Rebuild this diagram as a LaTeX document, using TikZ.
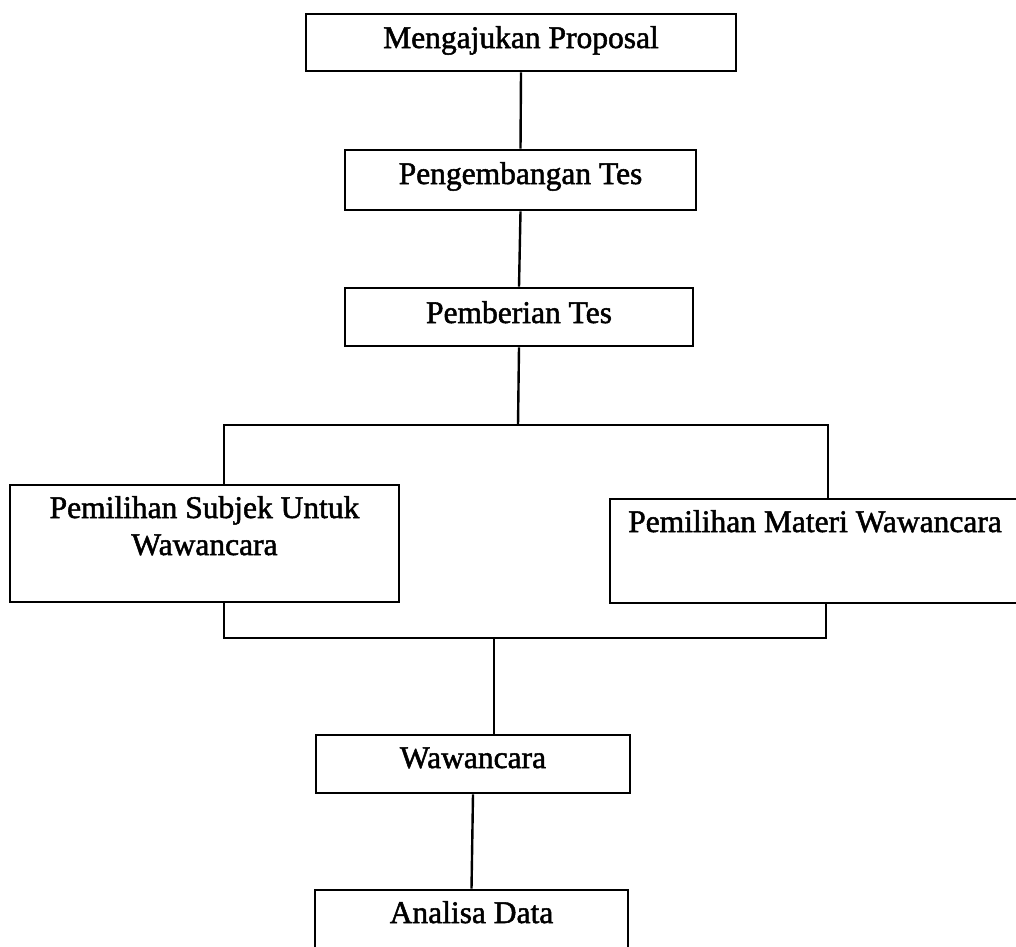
\documentclass[tikz,border=0pt]{standalone}
\usepackage{fontspec}
\setmainfont{Liberation Serif}[FakeBold=1.6]
\newcommand{\boxtxt}[2]{\smash{\raisebox{#1}{#2}}}
\begin{document}
\begin{tikzpicture}[x=1pt,y=-1pt,
  stepbox/.style={draw=black, line width=2.6pt, inner sep=0pt, font=\fontsize{31.5}{37}\selectfont},
  conn/.style={draw=black, line width=2.4pt}]
\useasboundingbox (0,0) rectangle (1016,946);
\fill[white] (0,0) rectangle (1016,946);

\node[stepbox, minimum width=430pt, minimum height=57pt] (b1) at (521,42.5) {\boxtxt{-5.5pt}{Mengajukan Proposal}};
\node[stepbox, minimum width=351pt, minimum height=60pt] (b2) at (520.5,180) {\boxtxt{-4pt}{Pengembangan Tes}};
\node[stepbox, minimum width=348pt, minimum height=58pt] (b3) at (519,317) {\boxtxt{-6pt}{Pemberian Tes}};
\node[stepbox, minimum width=389pt, minimum height=117pt] (bL) at (204.5,543.5) {\boxtxt{-11.5pt}{\begin{tabular}[b]{@{}c@{}}Pemilihan Subjek Untuk\\Wawancara\end{tabular}}};
\node[stepbox, minimum width=410pt, minimum height=104pt] (bR) at (815,551) {\boxtxt{19pt}{Pemilihan Materi Wawancara}};
\node[stepbox, minimum width=314pt, minimum height=58pt] (b4) at (473,764) {\boxtxt{-4pt}{Wawancara}};
\node[stepbox, minimum width=313pt, minimum height=58pt] (b5) at (471.5,919) {\boxtxt{-4pt}{Analisa Data}};

\coordinate (jt) at (518,425);
\coordinate (jl) at (224,425);
\coordinate (jr) at (828,425);
\coordinate (kl) at (224,638);
\coordinate (kr) at (826,638);
\coordinate (kb) at (494,638);

\draw[conn] (b1.south) -- (b2.north);
\draw[conn] (b2.south) -- (b3.north);
\draw[conn] (b3.south) -- (jt);
\draw[conn] (jl |- bL.north) -- (jl) -- (jr) -- (jr |- bR.north);
\draw[conn] (kl |- bL.south) -- (kl) -- (kr) -- (kr |- bR.south);
\draw[conn] (kb) -- (kb |- b4.north);
\draw[conn] (b4.south) -- (b5.north);
\end{tikzpicture}
\end{document}
